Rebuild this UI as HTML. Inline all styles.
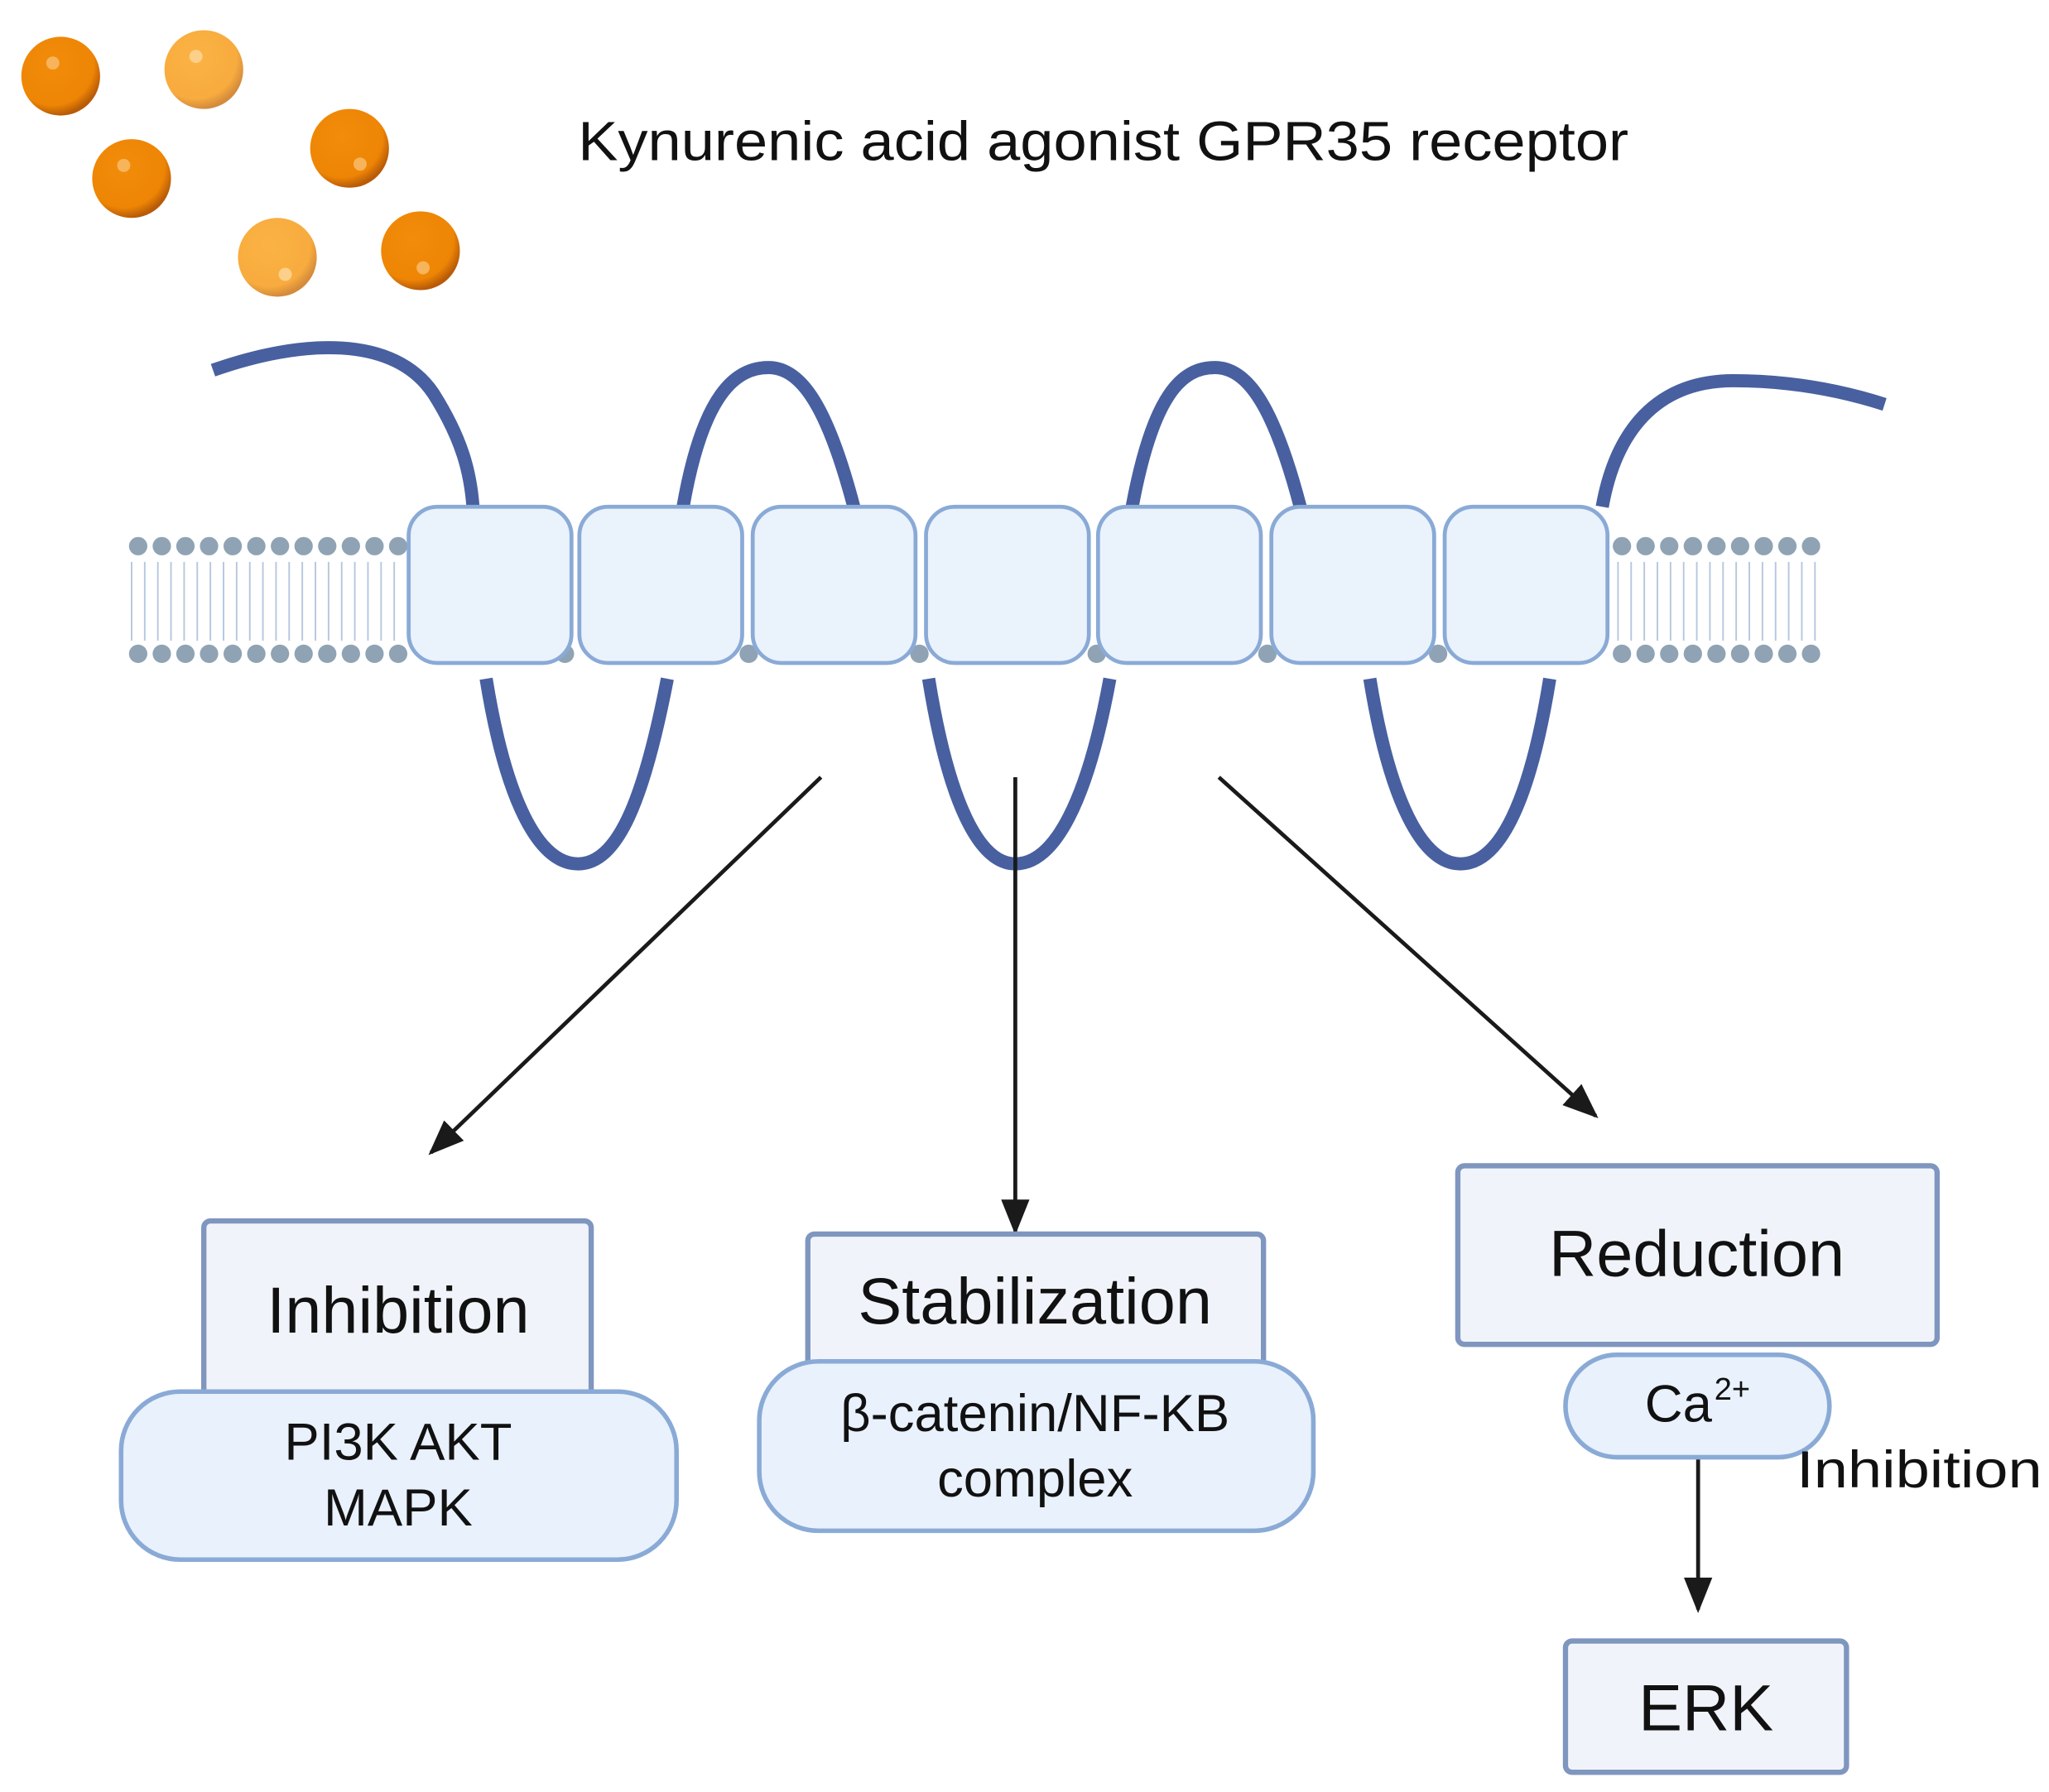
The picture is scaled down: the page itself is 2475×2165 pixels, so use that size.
<!DOCTYPE html>
<html><head><meta charset="utf-8"><style>html,body{margin:0;padding:0;background:#fff}svg{display:block}</style></head>
<body>
<svg width="2475" height="2165" viewBox="0 0 1560 1365" xmlns="http://www.w3.org/2000/svg" font-family="Liberation Sans, sans-serif">
<defs>
<marker id="a" viewBox="0 0 10 10" refX="9" refY="5" markerWidth="9" markerHeight="9" orient="auto"><path d="M0,1 L10,5 L0,9 z" fill="#1a1a1a"/></marker>
<radialGradient id="d" cx="40%" cy="35%" r="65%"><stop offset="0" stop-color="#f28c0a"/><stop offset="0.8" stop-color="#ee8505"/><stop offset="1" stop-color="#b85b08"/></radialGradient>
<radialGradient id="l" cx="40%" cy="35%" r="65%"><stop offset="0" stop-color="#fbb344"/><stop offset="0.8" stop-color="#f8ab3e"/><stop offset="1" stop-color="#d48b3c"/></radialGradient>
</defs>
<g>
<circle cx="46" cy="58" r="30" fill="url(#d)"/><circle cx="40" cy="48" r="5" fill="#f8b45b"/>
<circle cx="155" cy="53" r="30" fill="url(#l)"/><circle cx="149" cy="43" r="5" fill="#fcd08a"/>
<circle cx="100" cy="136" r="30" fill="url(#d)"/><circle cx="94" cy="126" r="5" fill="#f8b45b"/>
<circle cx="266" cy="113" r="30" fill="url(#d)"/><circle cx="274" cy="125" r="5" fill="#f8b45b"/>
<circle cx="211" cy="196" r="30" fill="url(#l)"/><circle cx="217" cy="209" r="5" fill="#fcd08a"/>
<circle cx="320" cy="191" r="30" fill="url(#d)"/><circle cx="322" cy="204" r="5" fill="#f8b45b"/>
</g>
<text x="840" y="122" font-size="42" text-anchor="middle" fill="#111" textLength="800" lengthAdjust="spacingAndGlyphs">Kynurenic acid agonist GPR35 receptor</text>
<!-- membrane -->
<g fill="#8fa3b5">
<circle cx="105" cy="416" r="7"/><circle cx="123" cy="416" r="7"/><circle cx="141" cy="416" r="7"/><circle cx="159" cy="416" r="7"/><circle cx="177" cy="416" r="7"/><circle cx="195" cy="416" r="7"/><circle cx="213" cy="416" r="7"/><circle cx="231" cy="416" r="7"/><circle cx="249" cy="416" r="7"/><circle cx="267" cy="416" r="7"/><circle cx="285" cy="416" r="7"/><circle cx="303" cy="416" r="7"/>
<circle cx="105" cy="498" r="7"/><circle cx="123" cy="498" r="7"/><circle cx="141" cy="498" r="7"/><circle cx="159" cy="498" r="7"/><circle cx="177" cy="498" r="7"/><circle cx="195" cy="498" r="7"/><circle cx="213" cy="498" r="7"/><circle cx="231" cy="498" r="7"/><circle cx="249" cy="498" r="7"/><circle cx="267" cy="498" r="7"/><circle cx="285" cy="498" r="7"/><circle cx="303" cy="498" r="7"/>
<circle cx="1235" cy="416" r="7"/><circle cx="1253" cy="416" r="7"/><circle cx="1271" cy="416" r="7"/><circle cx="1289" cy="416" r="7"/><circle cx="1307" cy="416" r="7"/><circle cx="1325" cy="416" r="7"/><circle cx="1343" cy="416" r="7"/><circle cx="1361" cy="416" r="7"/><circle cx="1379" cy="416" r="7"/>
<circle cx="1235" cy="498" r="7"/><circle cx="1253" cy="498" r="7"/><circle cx="1271" cy="498" r="7"/><circle cx="1289" cy="498" r="7"/><circle cx="1307" cy="498" r="7"/><circle cx="1325" cy="498" r="7"/><circle cx="1343" cy="498" r="7"/><circle cx="1361" cy="498" r="7"/><circle cx="1379" cy="498" r="7"/>
<circle cx="430" cy="498" r="7"/><circle cx="570" cy="498" r="7"/><circle cx="700" cy="498" r="7"/><circle cx="835" cy="498" r="7"/><circle cx="965" cy="498" r="7"/><circle cx="1095" cy="498" r="7"/>
</g>
<g stroke="#b6c7de" stroke-width="1.2">
<path d="M100 428 V488 M110 428 V488 M120 428 V488 M130 428 V488 M140 428 V488 M150 428 V488 M160 428 V488 M170 428 V488 M180 428 V488 M190 428 V488 M200 428 V488 M210 428 V488 M220 428 V488 M230 428 V488 M240 428 V488 M250 428 V488 M260 428 V488 M270 428 V488 M280 428 V488 M290 428 V488 M300 428 V488"/>
<path d="M1232 428 V488 M1242 428 V488 M1252 428 V488 M1262 428 V488 M1272 428 V488 M1282 428 V488 M1292 428 V488 M1302 428 V488 M1312 428 V488 M1322 428 V488 M1332 428 V488 M1342 428 V488 M1352 428 V488 M1362 428 V488 M1372 428 V488 M1382 428 V488"/>
</g>
<!-- receptor chain -->
<g fill="none" stroke="#4860a0" stroke-width="10" stroke-linecap="butt">
<path d="M162 282 C230 258 300 255 330 300 C352 335 358 360 360 386"/>
<path d="M520 386 C535 300 560 280 585 280 C610 280 630 310 650 386"/>
<path d="M862 386 C878 300 900 280 925 280 C950 280 970 310 990 386"/>
<path d="M1220 386 C1230 330 1260 290 1320 290 C1370 290 1410 300 1435 308"/>
<path d="M370 517 C385 610 410 658 440 658 C470 658 490 610 508 517"/>
<path d="M707 517 C722 610 745 658 773 658 C803 658 828 610 845 517"/>
<path d="M1043 517 C1058 610 1083 658 1112 658 C1142 658 1165 610 1180 517"/>
</g>
<g fill="#eaf2fc" stroke="#8aaad6" stroke-width="3">
<rect x="311" y="386" width="124" height="119" rx="22"/>
<rect x="441" y="386" width="124" height="119" rx="22"/>
<rect x="573" y="386" width="124" height="119" rx="22"/>
<rect x="705" y="386" width="124" height="119" rx="22"/>
<rect x="836" y="386" width="124" height="119" rx="22"/>
<rect x="968" y="386" width="124" height="119" rx="22"/>
<rect x="1100" y="386" width="124" height="119" rx="22"/>
</g>
<!-- arrows -->
<g stroke="#1a1a1a" stroke-width="3" fill="none" marker-end="url(#a)">
<line x1="625" y1="592" x2="328" y2="878"/>
<line x1="773" y1="592" x2="773" y2="938"/>
<line x1="928" y1="592" x2="1215" y2="850"/>
<line x1="1293" y1="1110" x2="1293" y2="1226"/>
</g>
<!-- boxes -->
<g stroke="#7f96bf" stroke-width="4" fill="#f0f4fa">
<rect x="155" y="930" width="295" height="140" rx="5"/>
<rect x="615" y="940" width="347" height="110" rx="5"/>
<rect x="1110" y="888" width="365" height="136" rx="5"/>
<rect x="1192" y="1250" width="214" height="100" rx="5"/>
</g>
<g stroke="#8aaad6" stroke-width="3.5" fill="#e9f1fc">
<rect x="92" y="1060" width="423" height="128" rx="45"/>
<rect x="578" y="1037" width="422" height="129" rx="45"/>
<rect x="1192" y="1032" width="201" height="78" rx="39"/>
</g>
<g fill="#111" text-anchor="middle">
<text x="303" y="1015" font-size="50">Inhibition</text>
<text x="303" y="1112" font-size="40">PI3K AKT</text>
<text x="303" y="1162" font-size="40">MAPK</text>
<text x="788" y="1008" font-size="50">Stabilization</text>
<text x="788" y="1090" font-size="40">β-catenin/NF-KB</text>
<text x="788" y="1140" font-size="40">complex</text>
<text x="1292" y="972" font-size="50">Reduction</text>
<text x="1278" y="1083" font-size="40">Ca</text>
<text x="1319" y="1066" font-size="24">2+</text>
<text x="1368" y="1133" font-size="40" text-anchor="start" textLength="187" lengthAdjust="spacingAndGlyphs">Inhibition</text>
<text x="1299" y="1318" font-size="50">ERK</text>
</g>
</svg>
</body></html>
